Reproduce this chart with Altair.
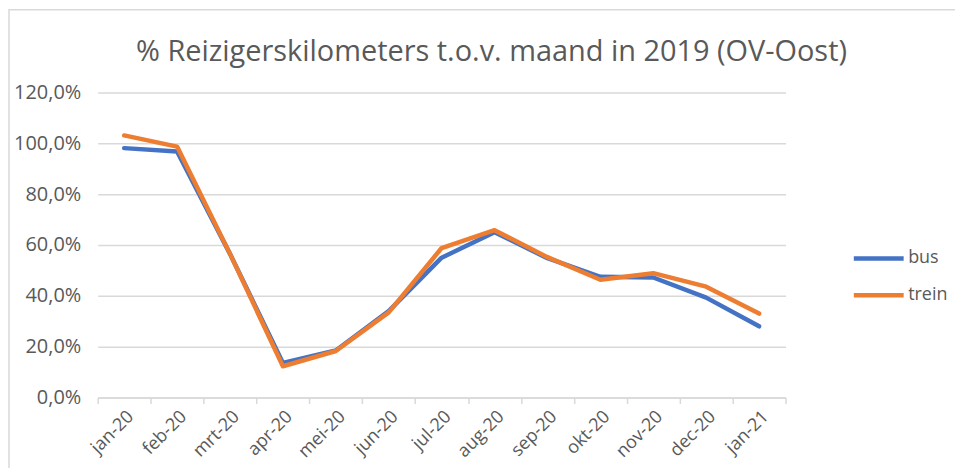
import altair as alt
import pandas as pd

months = ["jan-20", "feb-20", "mrt-20", "apr-20", "mei-20", "jun-20", "jul-20",
          "aug-20", "sep-20", "okt-20", "nov-20", "dec-20", "jan-21"]
bus = [98.1, 96.8, 56.5, 13.6, 18.5, 34.0, 55.0, 65.0, 54.8, 47.5, 47.2, 39.3, 28.0]
trein = [103.1, 98.7, 56.5, 12.3, 18.3, 33.5, 58.8, 65.8, 55.2, 46.3, 48.9, 43.6, 33.0]
series = ["bus", "trein"]
colors = ["#4472C4", "#ED7D31"]

rows = []
for s, vals in zip(series, [bus, trein]):
    for m, v in zip(months, vals):
        rows.append({"maand": m, "reeks": s, "waarde": v})
df = pd.DataFrame(rows)

FONT = "Open Sans"
GRAY = "#595959"

lines = alt.Chart(df).mark_line(strokeWidth=4.5, strokeCap="round", strokeJoin="round").encode(
    x=alt.X("maand:N", sort=months, bandPosition=0.5,
            scale=alt.Scale(type="band", paddingInner=0, paddingOuter=0),
            axis=alt.Axis(title=None, tickBand="extent", labelAngle=-45, labelFontSize=18,
                          labelColor=GRAY, labelFont=FONT, domainColor="#d9d9d9",
                          domainWidth=1.5, tickColor="#d9d9d9", tickWidth=1.5, tickSize=6,
                          labelPadding=4, grid=False)),
    y=alt.Y("waarde:Q", scale=alt.Scale(domain=[0, 120]),
            axis=alt.Axis(title=None, values=[0, 20, 40, 60, 80, 100, 120],
                          labelExpr="replace(format(datum.value, '.1f'), '.', ',') + '%'",
                          labelFontSize=20, labelColor=GRAY, labelFont=FONT, domain=False,
                          ticks=False, labelPadding=17, gridColor="#d9d9d9", gridWidth=1.5)),
    color=alt.Color("reeks:N", sort=series,
                    scale=alt.Scale(domain=series, range=colors),
                    legend=alt.Legend(title=None, orient="none", legendX=756, legendY=139,
                                      symbolType="stroke", symbolSize=2500,
                                      symbolStrokeWidth=4.5, labelFontSize=18,
                                      labelColor=GRAY, labelFont=FONT, labelOffset=2,
                                      rowPadding=-9)),
    order=alt.Order("reeks:N"),
)

border = alt.Chart(alt.Data(values=[{"a": 1}])).mark_rect(
    fill=None, stroke="#d9d9d9", strokeWidth=1.5
).encode(x=alt.value(-89), x2=alt.value(1000), y=alt.value(-83), y2=alt.value(600))

chart = alt.layer(border, lines).properties(
    width=690, height=306,
    padding={"left": 90, "top": 84, "right": 170, "bottom": 70},
    autosize="none",
    title=alt.TitleParams("% Reizigerskilometers t.o.v. maand in 2019 (OV-Oost)",
                          fontSize=29, font=FONT, fontWeight="normal", color=GRAY,
                          anchor="middle", dx=50, offset=-58),
).configure_view(stroke=None)

chart.save("out.html", embed_options={"renderer": "svg", "actions": False})
